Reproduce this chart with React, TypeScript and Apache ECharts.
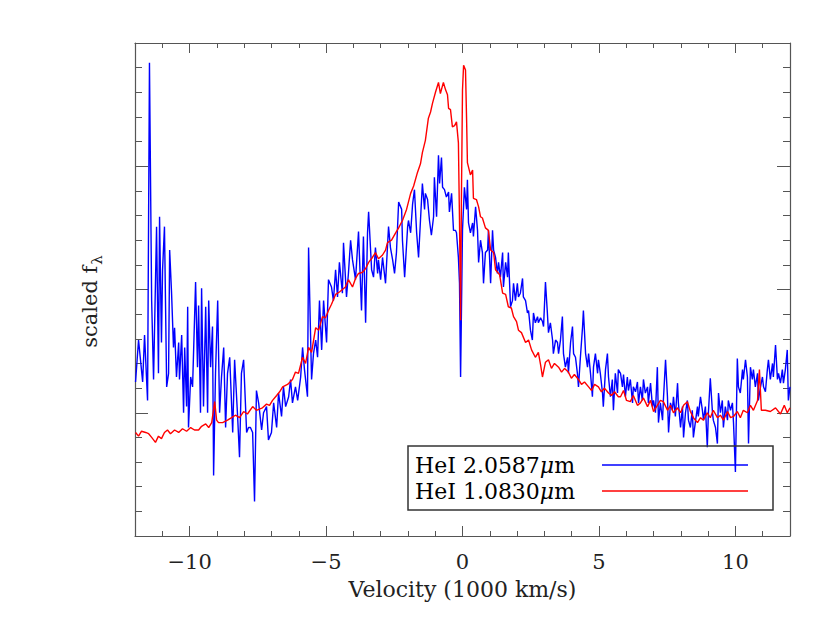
import React, { useEffect, useRef } from "react";
import * as echarts from "echarts";

// HeI 2.0587 micron (blue)
const heI2Vel = [
  -11.98, -11.87, -11.72, -11.65, -11.54, -11.47, -11.39, -11.32, -11.21, -11.14, -11.10, -11.03, -10.99, -10.92, -10.84, -10.77, -10.73, -10.66, -10.59, -10.55,
  -10.48, -10.40, -10.37, -10.29, -10.22, -10.18, -10.11, -10.07, -10.04, -9.96, -9.89, -9.78, -9.71, -9.67, -9.60, -9.56, -9.49, -9.41, -9.34, -9.30,
  -9.23, -9.16, -9.12, -9.05, -8.97, -8.90, -8.83, -8.75, -8.68, -8.61, -8.53, -8.42, -8.35, -8.24, -8.17, -8.10, -8.02, -7.91, -7.84, -7.77,
  -7.69, -7.62, -7.55, -7.47, -7.36, -7.29, -7.18, -7.11, -7.00, -6.92, -6.81, -6.74, -6.63, -6.56, -6.48, -6.37, -6.30, -6.23, -6.12, -6.04,
  -5.93, -5.86, -5.79, -5.68, -5.64, -5.53, -5.46, -5.38, -5.31, -5.24, -5.16, -5.09, -4.98, -4.91, -4.80, -4.73, -4.65, -4.58, -4.51, -4.40,
  -4.36, -4.25, -4.18, -4.10, -4.03, -3.92, -3.81, -3.70, -3.63, -3.55, -3.48, -3.44, -3.33, -3.26, -3.19, -3.11, -3.08, -3.00, -2.93, -2.82,
  -2.71, -2.64, -2.56, -2.49, -2.42, -2.34, -2.23, -2.20, -2.12, -2.01, -1.98, -1.90, -1.83, -1.76, -1.68, -1.61, -1.54, -1.47, -1.39, -1.36,
  -1.28, -1.21, -1.14, -1.06, -1.03, -0.95, -0.88, -0.84, -0.77, -0.73, -0.66, -0.59, -0.51, -0.48, -0.40, -0.33, -0.26, -0.22, -0.15, -0.11,
  -0.07, 0.00, 0.07, 0.15, 0.18, 0.22, 0.29, 0.37, 0.40, 0.48, 0.55, 0.59, 0.66, 0.73, 0.77, 0.84, 0.92, 0.95, 1.03, 1.10,
  1.14, 1.21, 1.28, 1.32, 1.39, 1.47, 1.50, 1.58, 1.65, 1.68, 1.76, 1.83, 1.87, 1.94, 2.01, 2.05, 2.12, 2.20, 2.23, 2.31,
  2.38, 2.42, 2.49, 2.56, 2.60, 2.67, 2.75, 2.78, 2.86, 2.93, 2.97, 3.04, 3.11, 3.15, 3.22, 3.30, 3.33, 3.41, 3.48, 3.52,
  3.59, 3.66, 3.70, 3.77, 3.85, 3.88, 3.96, 4.03, 4.07, 4.14, 4.21, 4.25, 4.32, 4.40, 4.43, 4.51, 4.58, 4.62, 4.69, 4.76,
  4.80, 4.87, 4.95, 4.98, 5.05, 5.13, 5.16, 5.24, 5.31, 5.35, 5.42, 5.49, 5.53, 5.60, 5.68, 5.71, 5.79, 5.86, 5.90, 5.97,
  6.04, 6.08, 6.15, 6.23, 6.26, 6.34, 6.41, 6.45, 6.52, 6.59, 6.63, 6.70, 6.78, 6.81, 6.89, 6.96, 7.00, 7.07, 7.14, 7.18,
  7.25, 7.33, 7.36, 7.44, 7.51, 7.55, 7.62, 7.69, 7.73, 7.80, 7.88, 7.91, 7.99, 8.06, 8.10, 8.17, 8.24, 8.28, 8.35, 8.42,
  8.46, 8.53, 8.61, 8.64, 8.72, 8.79, 8.83, 8.90, 8.97, 9.01, 9.08, 9.16, 9.19, 9.27, 9.34, 9.38, 9.45, 9.52, 9.56, 9.63,
  9.71, 9.74, 9.82, 9.89, 9.93, 10.00, 10.07, 10.11, 10.18, 10.26, 10.29, 10.37, 10.44, 10.48, 10.55, 10.62, 10.66, 10.73, 10.81, 10.84,
  10.92, 10.99, 11.03, 11.10, 11.17, 11.21, 11.28, 11.36, 11.39, 11.47, 11.54, 11.58, 11.65, 11.72, 11.76, 11.83, 11.90, 11.94, 12.00,
];
const heI2Flux = [
  1.25, 1.59, 1.25, 1.63, 1.10, 3.84, 1.91, 1.27, 2.51, 1.32, 2.59, 1.57, 2.16, 2.51, 1.21, 1.32, 2.32, 1.97, 1.53, 1.69,
  1.29, 1.57, 1.27, 1.63, 1.00, 1.53, 1.05, 1.86, 0.88, 1.29, 1.21, 2.06, 1.37, 1.87, 1.00, 2.01, 1.05, 1.86, 1.00, 1.91,
  1.37, 1.70, 0.49, 1.32, 1.91, 1.00, 1.29, 1.53, 0.88, 1.32, 1.45, 0.84, 1.43, 0.97, 0.64, 1.32, 1.43, 0.84, 0.88, 0.88,
  0.84, 0.28, 1.18, 1.08, 0.86, 1.00, 1.05, 0.78, 0.84, 1.08, 0.88, 1.16, 0.97, 1.21, 1.05, 1.13, 1.27, 1.08, 1.21, 1.10,
  1.29, 1.53, 1.35, 1.13, 2.34, 1.27, 1.48, 1.59, 1.45, 1.91, 1.51, 1.91, 1.57, 2.08, 2.02, 1.91, 2.16, 1.94, 2.22, 1.97,
  2.38, 1.94, 2.13, 2.40, 2.24, 2.08, 2.47, 1.83, 2.43, 1.73, 2.46, 2.63, 2.16, 2.10, 2.34, 2.13, 2.24, 2.08, 2.26, 2.05,
  2.51, 2.34, 2.24, 2.13, 2.30, 2.71, 2.65, 2.40, 2.10, 2.51, 2.56, 2.46, 2.69, 2.81, 2.46, 2.26, 2.56, 2.86, 2.65, 2.78,
  2.73, 2.56, 2.44, 2.59, 2.91, 2.59, 3.09, 2.86, 3.07, 2.83, 2.81, 2.75, 2.79, 2.63, 2.78, 2.48, 2.48, 2.46, 2.26, 2.05,
  1.29, 2.48, 2.83, 2.65, 2.89, 2.54, 2.46, 2.54, 2.43, 2.67, 2.48, 2.22, 2.40, 2.30, 2.05, 2.30, 2.32, 2.48, 2.05, 2.48,
  2.32, 2.26, 2.13, 2.22, 2.10, 2.30, 2.02, 2.22, 2.10, 2.30, 1.86, 1.91, 2.05, 1.91, 2.05, 1.94, 1.97, 2.09, 1.94, 1.91,
  1.81, 1.83, 1.67, 1.59, 1.81, 1.73, 1.78, 1.73, 1.77, 1.74, 1.70, 2.06, 1.81, 1.65, 1.73, 1.59, 1.48, 1.59, 1.57, 1.48,
  1.59, 1.78, 1.48, 1.37, 1.45, 1.32, 1.57, 1.70, 1.48, 1.45, 1.32, 1.21, 1.45, 1.70, 1.83, 1.48, 1.37, 1.48, 1.32, 1.13,
  1.37, 1.48, 1.32, 1.43, 1.32, 1.16, 1.05, 1.35, 1.48, 1.29, 1.13, 1.27, 1.02, 1.32, 1.16, 1.35, 1.32, 1.21, 1.31, 1.13,
  1.29, 1.18, 1.27, 1.08, 1.21, 1.17, 1.25, 1.08, 1.21, 1.10, 1.27, 1.16, 1.21, 1.08, 1.24, 1.05, 1.10, 1.00, 1.37, 0.92,
  1.08, 0.94, 1.10, 1.43, 1.13, 0.84, 1.08, 1.02, 1.13, 0.97, 1.24, 1.08, 0.88, 1.05, 0.80, 1.00, 1.10, 0.94, 0.88, 1.02,
  0.80, 0.92, 1.05, 0.97, 1.13, 1.02, 0.94, 1.05, 0.72, 1.00, 1.28, 1.00, 0.94, 0.88, 0.75, 1.16, 1.00, 1.10, 0.88, 1.05,
  0.94, 1.10, 1.02, 1.08, 0.92, 0.52, 1.44, 1.21, 1.16, 1.35, 1.27, 1.43, 1.29, 0.75, 1.37, 1.27, 1.35, 1.21, 1.32, 1.10,
  1.21, 1.29, 1.21, 1.17, 1.35, 1.43, 1.27, 1.40, 1.29, 1.55, 1.27, 1.32, 1.24, 1.35, 1.24, 1.35, 1.51, 1.10, 1.21,
];

// HeI 1.0830 micron (red)
const heI1Vel = [
  -11.98, -11.87, -11.76, -11.61, -11.50, -11.39, -11.25, -11.14, -11.03, -10.92, -10.81, -10.70, -10.55, -10.40, -10.26, -10.11, -9.96, -9.82, -9.67, -9.56,
  -9.41, -9.30, -9.19, -9.08, -9.01, -8.94, -8.79, -8.61, -8.46, -8.32, -8.17, -8.02, -7.88, -7.69, -7.55, -7.33, -7.18, -7.07, -6.96, -6.81,
  -6.70, -6.59, -6.41, -6.23, -6.12, -6.01, -5.86, -5.75, -5.64, -5.53, -5.38, -5.27, -5.13, -5.02, -4.91, -4.80, -4.65, -4.51, -4.40, -4.29,
  -4.18, -4.03, -3.92, -3.81, -3.66, -3.55, -3.44, -3.30, -3.19, -3.08, -2.93, -2.82, -2.75, -2.60, -2.45, -2.34, -2.20, -2.05, -1.90, -1.79,
  -1.65, -1.54, -1.47, -1.36, -1.25, -1.17, -1.10, -0.99, -0.88, -0.81, -0.70, -0.62, -0.55, -0.51, -0.44, -0.37, -0.29, -0.22, -0.15, -0.11,
  -0.07, -0.04, 0.00, 0.04, 0.11, 0.15, 0.18, 0.29, 0.37, 0.40, 0.51, 0.59, 0.66, 0.73, 0.84, 0.95, 1.03, 1.14, 1.21, 1.36,
  1.47, 1.58, 1.68, 1.79, 1.87, 1.98, 2.05, 2.16, 2.31, 2.42, 2.53, 2.67, 2.78, 2.86, 2.93, 3.04, 3.15, 3.26, 3.37, 3.52,
  3.63, 3.74, 3.88, 3.99, 4.10, 4.25, 4.36, 4.47, 4.62, 4.73, 4.84, 4.98, 5.09, 5.20, 5.35, 5.46, 5.57, 5.71, 5.79, 5.90,
  6.01, 6.15, 6.26, 6.41, 6.52, 6.63, 6.78, 6.89, 7.00, 7.14, 7.25, 7.36, 7.51, 7.62, 7.73, 7.88, 7.99, 8.10, 8.24, 8.35,
  8.46, 8.61, 8.72, 8.83, 8.97, 9.08, 9.19, 9.34, 9.45, 9.56, 9.71, 9.82, 9.93, 10.07, 10.18, 10.29, 10.44, 10.55, 10.66, 10.81,
  10.88, 10.95, 11.10, 11.28, 11.47, 11.65, 11.79, 11.90, 12.00,
];
const heI1Flux = [
  0.84, 0.81, 0.85, 0.84, 0.83, 0.80, 0.76, 0.81, 0.79, 0.84, 0.86, 0.83, 0.86, 0.84, 0.87, 0.85, 0.88, 0.86, 0.86, 0.89,
  0.91, 0.88, 0.92, 1.09, 0.94, 0.92, 0.92, 0.94, 0.96, 0.98, 0.96, 1.01, 0.99, 1.05, 1.02, 1.04, 1.07, 1.06, 1.10, 1.14,
  1.17, 1.21, 1.23, 1.27, 1.33, 1.32, 1.45, 1.40, 1.53, 1.49, 1.69, 1.67, 1.78, 1.77, 1.83, 1.88, 1.96, 1.98, 2.00, 2.02,
  2.08, 2.02, 2.09, 2.13, 2.14, 2.17, 2.22, 2.26, 2.30, 2.25, 2.28, 2.32, 2.38, 2.40, 2.46, 2.50, 2.56, 2.65, 2.78, 2.84,
  2.95, 3.02, 3.11, 3.21, 3.39, 3.44, 3.51, 3.60, 3.68, 3.59, 3.68, 3.62, 3.58, 3.47, 3.46, 3.32, 3.33, 3.36, 3.19, 2.56,
  1.75, 2.73, 3.62, 3.82, 3.78, 3.38, 3.03, 2.93, 2.97, 2.74, 2.73, 2.67, 2.59, 2.58, 2.50, 2.48, 2.32, 2.30, 2.16, 2.12,
  1.97, 1.96, 1.86, 1.85, 1.78, 1.74, 1.67, 1.65, 1.57, 1.59, 1.51, 1.45, 1.49, 1.39, 1.29, 1.41, 1.43, 1.36, 1.40, 1.37,
  1.33, 1.36, 1.33, 1.28, 1.31, 1.27, 1.23, 1.25, 1.21, 1.18, 1.23, 1.21, 1.17, 1.20, 1.16, 1.14, 1.17, 1.13, 1.13, 1.18,
  1.10, 1.09, 1.14, 1.06, 1.08, 1.12, 1.05, 1.10, 1.01, 1.06, 1.10, 1.09, 1.02, 1.06, 1.00, 1.04, 1.00, 1.06, 1.09, 1.01,
  0.96, 0.92, 0.96, 0.94, 1.00, 0.96, 1.02, 0.96, 0.98, 0.94, 1.01, 0.96, 0.97, 1.01, 0.96, 1.02, 1.00, 1.06, 1.02, 1.10,
  1.35, 1.02, 1.02, 1.01, 1.04, 0.99, 1.06, 1.00, 1.04,
];

const seriesNames = ["HeI 2.0587μm", "HeI 1.0830μm"];
const seriesColors = ["#0000ff", "#ff0000"];
const majorXTicks = [-10, -5, 0, 5, 10];
const xRange = [-12, 12];
const yRange = [0, 4];

const FONT = "DejaVu Serif";
const AXIS_COLOR = "#555";
const TEXT_COLOR = "#222";

export default function App() {
  const ref = useRef<HTMLDivElement>(null);
  useEffect(() => {
    if (!ref.current) return;
    const chart = echarts.init(ref.current, undefined, { renderer: "svg" });
    const gridBox = { left: 135, right: 40, top: 43, bottom: 87 };
    const fmt = (v: number) => String(v).replace("-", "\u2212");
    const minorX = (gridIndex: number, position: string) => ({
      type: "value",
      gridIndex,
      position,
      min: xRange[0],
      max: xRange[1],
      interval: 1,
      axisLine: { show: true, onZero: false, lineStyle: { color: AXIS_COLOR, width: 1.2 } },
      axisTick: { show: true, inside: true, length: 5, lineStyle: { color: AXIS_COLOR } },
      axisLabel: { show: false },
      splitLine: { show: false },
    });
    const majorX = (gridIndex: number, position: string) => ({
      type: "value",
      gridIndex,
      position,
      min: xRange[0],
      max: xRange[1],
      axisLine: { show: false, onZero: false },
      axisTick: { show: true, inside: true, length: 10, customValues: majorXTicks, lineStyle: { color: AXIS_COLOR } },
      axisLabel: { show: false },
      splitLine: { show: false },
    });
    const minorY = (gridIndex: number, position: string) => ({
      type: "value",
      gridIndex,
      position,
      min: yRange[0],
      max: yRange[1],
      interval: 0.2,
      axisLine: { show: true, onZero: false, lineStyle: { color: AXIS_COLOR, width: 1.2 } },
      axisTick: { show: true, inside: true, length: 7, lineStyle: { color: AXIS_COLOR } },
      axisLabel: { show: false },
      splitLine: { show: false },
    });
    const majorY = (gridIndex: number, position: string) => ({
      type: "value",
      gridIndex,
      position,
      min: yRange[0],
      max: yRange[1],
      interval: 1,
      axisLine: { show: false, onZero: false },
      axisTick: { show: true, inside: true, length: 13, lineStyle: { color: AXIS_COLOR } },
      axisLabel: { show: false },
      splitLine: { show: false },
    });

    const bottomX: any = minorX(0, "bottom");
    bottomX.axisLabel = {
      show: true,
      margin: 15,
      fontFamily: FONT,
      fontSize: 21,
      color: TEXT_COLOR,
      formatter: (v: number) => (majorXTicks.includes(v) ? fmt(v) : ""),
    };
    bottomX.name = "Velocity (1000 km/s)";
    bottomX.nameLocation = "middle";
    bottomX.nameGap = 42;
    bottomX.nameTextStyle = { fontFamily: FONT, fontSize: 22, color: TEXT_COLOR };

    const leftY: any = minorY(0, "left");
    leftY.name = "{a|scaled f}{b|λ}";
    leftY.nameLocation = "middle";
    leftY.nameRotate = 90;
    leftY.nameGap = 34;
    leftY.nameTextStyle = {
      rich: {
        a: { fontFamily: FONT, fontSize: 21, color: TEXT_COLOR, lineHeight: 22, verticalAlign: "top" },
        b: { fontFamily: FONT, fontSize: 15, color: TEXT_COLOR, lineHeight: 16, verticalAlign: "top", padding: [10, 24, 0, 1] },
      },
    };

    const richLegend = {
      t: { fontFamily: FONT, fontSize: 22, color: TEXT_COLOR },
      i: { fontFamily: FONT, fontSize: 22, fontStyle: "italic", color: TEXT_COLOR },
    };
    const legendLabel = (name: string) => {
      const parts = name.split("μ");
      return `{t|${parts[0]}}{i|μ}{t|${parts[1]}}`;
    };

    chart.setOption({
      animation: false,
      backgroundColor: "#fff",
      grid: [0, 1, 2, 3].map(() => ({ ...gridBox, containLabel: false })),
      xAxis: [minorX(1, "top"), majorX(2, "bottom"), majorX(3, "top"), bottomX],
      yAxis: [minorY(1, "right"), majorY(2, "left"), majorY(3, "right"), leftY],
      series: [
        {
          name: seriesNames[0],
          type: "line",
          xAxisIndex: 3,
          yAxisIndex: 3,
          data: heI2Vel.map((v, i) => [v, heI2Flux[i]]),
          symbol: "none",
          lineStyle: { color: seriesColors[0], width: 1.4 },
          itemStyle: { color: seriesColors[0] },
          clip: true,
        },
        {
          name: seriesNames[1],
          type: "line",
          xAxisIndex: 3,
          yAxisIndex: 3,
          data: heI1Vel.map((v, i) => [v, heI1Flux[i]]),
          symbol: "none",
          lineStyle: { color: seriesColors[1], width: 1.4 },
          itemStyle: { color: seriesColors[1] },
          clip: true,
        },
      ],
      graphic: [
        {
          type: "rect",
          shape: { x: 408, y: 446, width: 365, height: 64 },
          style: { fill: "none", stroke: "#333", lineWidth: 1.5 },
          z: 100,
        },
        {
          type: "text",
          x: 415,
          y: 465,
          style: { text: legendLabel(seriesNames[0]), rich: richLegend, verticalAlign: "middle", align: "left" },
          z: 100,
        },
        {
          type: "text",
          x: 415,
          y: 491,
          style: { text: legendLabel(seriesNames[1]), rich: richLegend, verticalAlign: "middle", align: "left" },
          z: 100,
        },
        {
          type: "line",
          shape: { x1: 602, y1: 465, x2: 748, y2: 465 },
          style: { stroke: seriesColors[0], lineWidth: 1.4 },
          z: 100,
        },
        {
          type: "line",
          shape: { x1: 602, y1: 491, x2: 748, y2: 491 },
          style: { stroke: seriesColors[1], lineWidth: 1.4 },
          z: 100,
        },
      ],
    });
    return () => chart.dispose();
  }, []);
  return (
    <div
      ref={ref}
      style={{ position: "absolute", left: 0, top: 0, width: 830, height: 623, background: "#fff" }}
    />
  );
}
